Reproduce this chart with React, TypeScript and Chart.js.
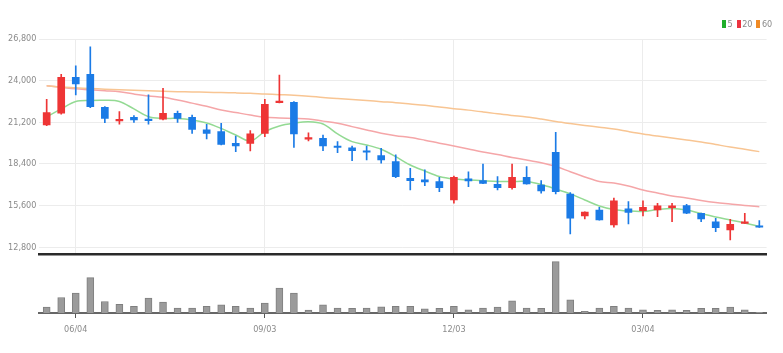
import React, { useEffect, useRef } from 'react';
import { Chart, registerables } from 'chart.js';

Chart.register(...registerables);

const DATES = [
  '05/21', '05/28', '06/04', '06/11', '06/18', '06/25', '07/02', '07/09', '07/16', '07/23',
  '07/30', '08/06', '08/13', '08/20', '08/27', '09/03', '09/10', '09/17', '09/24', '10/01',
  '10/08', '10/15', '10/22', '10/29', '11/05', '11/12', '11/19', '11/26', '12/03', '12/10',
  '12/17', '12/24', '12/31', '01/07', '01/14', '01/21', '01/28', '02/04', '02/11', '02/18',
  '02/25', '03/04', '03/11', '03/18', '03/25', '04/01', '04/08', '04/15', '04/22', '04/29',
];
const TICK_LABELS = ['06/04', '09/03', '12/03', '03/04'];
const PRICE_TICKS = [12800, 15600, 18400, 21200, 24000, 26800];
const PRICE_MIN = 12350;
const PRICE_MAX = 26800;
const VOLUME_MAX = 1080000;

const OPEN = [
  21020, 21810, 24230, 24430, 22210, 21290, 21540, 21420, 21420, 21810,
  21540, 20690, 20570, 19790, 19790, 20460, 22520, 22550, 20060, 20130,
  19610, 19480, 19290, 18960, 18560, 17440, 17330, 17210, 15980, 17410,
  17280, 17040, 16810, 17510, 16990, 19190, 16380, 14910, 15310, 14300,
  15380, 15260, 15310, 15470, 15600, 15090, 14520, 13970, 14410, 14250,
];
const HIGH = [
  22750, 24430, 24990, 26280, 22250, 21920, 21650, 23040, 23490, 21960,
  21690, 21070, 21140, 20280, 20640, 22750, 24380, 22590, 20500, 20350,
  19900, 19610, 19610, 19460, 19010, 18110, 18000, 17510, 17590, 17880,
  18400, 17550, 18400, 18220, 17280, 20530, 16470, 15180, 15490, 16100,
  15870, 15930, 15760, 15760, 15690, 15100, 14750, 14680, 15090, 14590,
];
const LOW = [
  20970, 21740, 23040, 22180, 21180, 21070, 21200, 21070, 21360, 21200,
  20460, 20080, 19680, 19230, 19270, 20230, 22500, 19520, 19950, 19290,
  19160, 18620, 18670, 18450, 17480, 16650, 16940, 16540, 15760, 16880,
  17080, 16650, 16700, 17040, 16430, 16380, 13700, 14700, 14620, 14150,
  14370, 14910, 14860, 14520, 15060, 14520, 13850, 13290, 14400, 14140,
];
const CLOSE = [
  21850, 24230, 23780, 22250, 21470, 21400, 21360, 21310, 21810, 21470,
  20730, 20460, 19720, 19610, 20420, 22410, 22630, 20420, 20170, 19610,
  19520, 19290, 19190, 18670, 17550, 17280, 17190, 16810, 17510, 17260,
  17100, 16810, 17510, 17060, 16590, 16540, 14750, 15170, 14640, 15930,
  15150, 15490, 15580, 15580, 15090, 14700, 14120, 14350, 14520, 14150,
];
const VOLUME = [
  120000, 312000, 400000, 712000, 232000, 172000, 132000, 300000, 220000, 100000,
  100000, 132000, 166000, 132000, 100000, 200000, 500000, 400000, 60000, 166000,
  100000, 92000, 100000, 126000, 132000, 132000, 86000, 92000, 132000, 66000,
  100000, 120000, 246000, 100000, 92000, 1032000, 266000, 32000, 100000, 132000,
  100000, 66000, 52000, 66000, 52000, 92000, 92000, 120000, 66000, 12000,
];
const MA5 = [
  21560, 22100, 22600, 22670, 22680, 22600, 22100, 21580, 21470, 21460,
  21360, 21160, 20790, 20350, 19950, 20570, 20950, 21140, 21240, 21090,
  20420, 19900, 19680, 19390, 18890, 18330, 17930, 17560, 17390, 17330,
  17270, 17220, 17220, 17220, 17020, 16720, 16390, 15980, 15580, 15340,
  15240, 15210, 15340, 15410, 15310, 15070, 14840, 14640, 14440, 14200,
];
const MA20 = [
  23660, 23550, 23450, 23390, 23320, 23250, 23100, 22970, 22880, 22700,
  22490, 22280, 22030, 21860, 21690, 21540, 21490, 21460, 21420, 21280,
  21140, 20910, 20690, 20470, 20300, 20180, 20000, 19800, 19610, 19410,
  19210, 19040, 18840, 18670, 18480, 18230, 17880, 17530, 17220, 17120,
  16920, 16650, 16450, 16250, 16120, 15950, 15810, 15710, 15610, 15530,
];
const MA60 = [
  23660, 23570, 23520, 23470, 23430, 23390, 23350, 23320, 23290, 23260,
  23240, 23220, 23200, 23180, 23150, 23100, 23060, 23020, 22960, 22870,
  22800, 22740, 22670, 22590, 22520, 22430, 22340, 22230, 22120, 22020,
  21900, 21770, 21660, 21560, 21420, 21260, 21120, 20990, 20870, 20750,
  20580, 20420, 20280, 20150, 20010, 19880, 19710, 19540, 19390, 19230,
];
const LEGEND_ITEMS = [
  { label: '5', color: '#1fae2a' },
  { label: '20', color: '#ec3440' },
  { label: '60', color: '#f08a24' },
];

const FONT = '"Liberation Sans Narrow", "DejaVu Sans Condensed", "Roboto Condensed", "Liberation Sans", sans-serif';
const UP = '#ee3535';
const DOWN = '#1b7be6';
const AXIS_W = 39.4;
const RIGHT_PAD = 16.4;

export default function App() {
  const priceRef = useRef<HTMLCanvasElement>(null);
  const volRef = useRef<HTMLCanvasElement>(null);

  useEffect(() => {
    const colors = OPEN.map((o, i) => (CLOSE[i] >= o ? UP : DOWN));
    const isTick = (v: any) => TICK_LABELS.includes(DATES[v as number]);
    const lineDs = (label: string, data: number[], color: string) => ({
      type: 'line' as const,
      label,
      data,
      borderColor: color,
      backgroundColor: color,
      borderWidth: 1.5,
      pointRadius: 0,
      tension: 0.35,
      order: 3,
    });

    const price = new Chart(priceRef.current!, {
      type: 'bar',
      data: {
        labels: DATES,
        datasets: [
          lineDs('60', MA60, '#f8c593'),
          lineDs('20', MA20, '#f5a6a8'),
          lineDs('5', MA5, '#93da93'),
          {
            label: 'wick',
            data: LOW.map((l, i) => [l, HIGH[i]]),
            backgroundColor: colors,
            barThickness: 1,
            grouped: false,
            order: 2,
          } as any,
          {
            label: 'body',
            data: OPEN.map((o, i) => [o, CLOSE[i]]),
            backgroundColor: colors,
            barThickness: 7,
            grouped: false,
            order: 1,
          } as any,
        ],
      },
      options: {
        responsive: false,
        animation: false,
        layout: { padding: { left: 0, right: RIGHT_PAD, top: 39, bottom: 16 } },
        plugins: { legend: { display: false }, tooltip: { enabled: false } },
        scales: {
          x: {
            type: 'category',
            offset: true,
            grid: {
              offset: false,
              drawTicks: false,
              color: (ctx: any) => (ctx.tick && isTick(ctx.tick.value) ? '#ececec' : 'rgba(0,0,0,0)'),
            },
            ticks: { display: false },
            border: { display: true, color: '#2a2a2a', width: 2.5 },
            afterFit: (s: any) => {
              s.height = 0;
            },
          },
          y: {
            min: PRICE_MIN,
            max: PRICE_MAX,
            afterBuildTicks: (s: any) => {
              s.ticks = PRICE_TICKS.map((v) => ({ value: v }));
            },
            afterFit: (s: any) => {
              s.width = AXIS_W;
            },
            grid: { color: '#ececec', drawTicks: false },
            border: { display: false },
            ticks: {
              padding: 3,
              color: '#8a8a8a',
              font: { family: FONT, size: 9 },
              callback: (v: any) => Number(v).toLocaleString('en-US'),
            },
          },
        },
      },
    } as any);

    const vol = new Chart(volRef.current!, {
      type: 'bar',
      data: {
        labels: DATES,
        datasets: [
          {
            label: 'volume',
            data: VOLUME,
            backgroundColor: '#9b9b9b',
            borderColor: '#7f7f7f',
            borderWidth: 1,
            barThickness: 7,
          },
        ],
      },
      options: {
        responsive: false,
        animation: false,
        layout: { padding: { left: 0, right: RIGHT_PAD, top: 3.3, bottom: 0 } },
        plugins: { legend: { display: false }, tooltip: { enabled: false } },
        scales: {
          x: {
            type: 'category',
            offset: true,
            grid: {
              offset: false,
              drawTicks: true,
              tickLength: 5,
              color: 'rgba(0,0,0,0)',
              tickColor: (ctx: any) => (ctx.tick && isTick(ctx.tick.value) ? '#555' : 'rgba(0,0,0,0)'),
            },
            border: { display: true, color: '#666', width: 2 },
            ticks: {
              autoSkip: false,
              maxRotation: 0,
              padding: 6,
              color: '#8a8a8a',
              font: { family: FONT, size: 9 },
              callback: (v: any) => (isTick(v) ? DATES[v] : ''),
            },
            afterFit: (s: any) => {
              s.height = 40;
            },
          },
          y: {
            min: 0,
            max: VOLUME_MAX,
            ticks: { display: false },
            grid: { display: false },
            border: { display: false },
            afterFit: (s: any) => {
              s.width = AXIS_W;
            },
          },
        },
      },
    } as any);

    return () => {
      price.destroy();
      vol.destroy();
    };
  }, []);

  return (
    <div style={{ position: 'absolute', left: 0, top: 0, width: 783, height: 353, background: '#fff', overflow: 'hidden' }}>
      <canvas ref={priceRef} width={783} height={270} style={{ position: 'absolute', left: 0, top: 0, width: 783, height: 270 }} />
      <canvas ref={volRef} width={783} height={97} style={{ position: 'absolute', left: 0, top: 256, width: 783, height: 97 }} />
      <div
        style={{
          position: 'absolute',
          left: 722,
          top: 18,
          display: 'flex',
          alignItems: 'center',
          fontFamily: FONT,
          fontSize: 9,
          color: '#8a8a8a',
          lineHeight: '12px',
        }}
      >
        {LEGEND_ITEMS.map((it) => (
          <span key={it.label} style={{ display: 'flex', alignItems: 'center', marginRight: 4 }}>
            <span style={{ display: 'inline-block', width: 4, height: 8, background: it.color, marginRight: 1.5 }} />
            <span>{it.label}</span>
          </span>
        ))}
      </div>
    </div>
  );
}
